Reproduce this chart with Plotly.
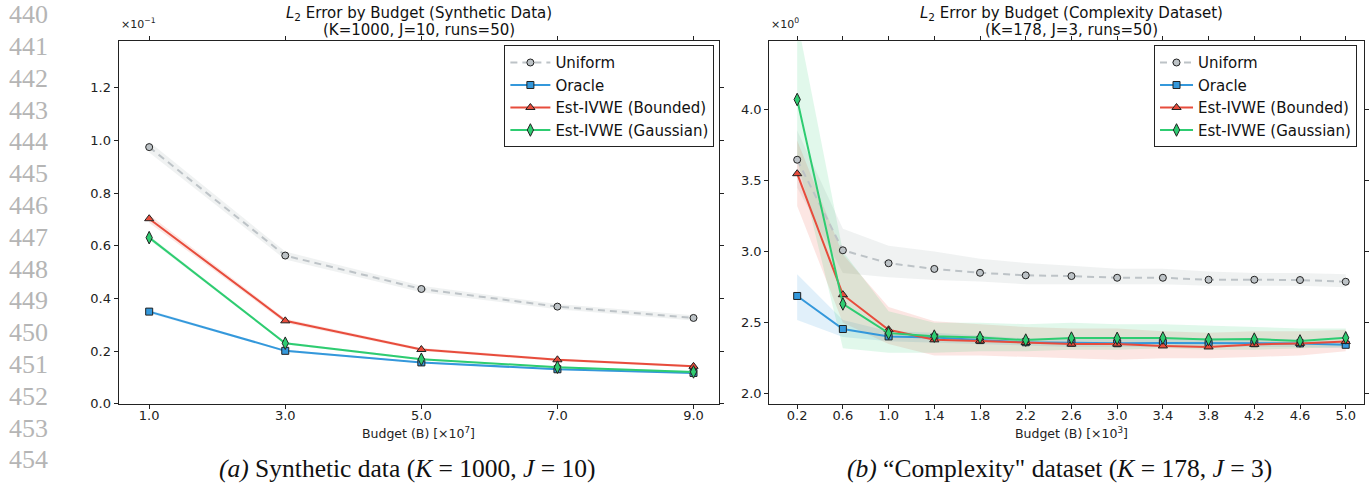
import plotly.graph_objects as go

W, H = 1369, 486

# ---------------- data: left panel (synthetic, values in x10^-1) ----------------
syn_budget = [1.0, 3.0, 5.0, 7.0, 9.0]
syn_uniform = [0.975, 0.563, 0.436, 0.369, 0.326]
syn_uniform_lo = [0.955, 0.548, 0.424, 0.359, 0.316]
syn_uniform_hi = [0.995, 0.578, 0.448, 0.379, 0.336]
syn_oracle = [0.350, 0.201, 0.157, 0.131, 0.117]
syn_oracle_lo = [0.344, 0.197, 0.154, 0.128, 0.114]
syn_oracle_hi = [0.356, 0.205, 0.160, 0.134, 0.120]
syn_bounded = [0.703, 0.315, 0.206, 0.167, 0.142]
syn_bounded_lo = [0.688, 0.307, 0.200, 0.162, 0.138]
syn_bounded_hi = [0.718, 0.323, 0.212, 0.172, 0.146]
syn_gauss = [0.631, 0.230, 0.169, 0.139, 0.121]
syn_gauss_lo = [0.623, 0.225, 0.165, 0.136, 0.118]
syn_gauss_hi = [0.639, 0.235, 0.173, 0.142, 0.124]

# ---------------- data: right panel (complexity dataset, x10^0) ----------------
cx_budget = [0.2, 0.6, 1.0, 1.4, 1.8, 2.2, 2.6, 3.0, 3.4, 3.8, 4.2, 4.6, 5.0]
cx_uniform = [3.645, 3.009, 2.918, 2.878, 2.851, 2.833, 2.828, 2.816, 2.816, 2.802, 2.802, 2.800, 2.788]
cx_uniform_lo = [3.45, 2.85, 2.82, 2.80, 2.79, 2.77, 2.77, 2.77, 2.77, 2.76, 2.76, 2.76, 2.75]
cx_uniform_hi = [3.85, 3.16, 3.04, 3.00, 2.95, 2.92, 2.90, 2.88, 2.88, 2.86, 2.85, 2.85, 2.84]
cx_oracle = [2.688, 2.456, 2.404, 2.396, 2.378, 2.363, 2.360, 2.356, 2.358, 2.358, 2.356, 2.355, 2.345]
cx_oracle_lo = [2.52, 2.40, 2.37, 2.36, 2.35, 2.34, 2.33, 2.33, 2.33, 2.33, 2.33, 2.33, 2.32]
cx_oracle_hi = [2.84, 2.52, 2.44, 2.43, 2.41, 2.39, 2.39, 2.39, 2.39, 2.39, 2.39, 2.38, 2.37]
cx_bounded = [3.547, 2.697, 2.451, 2.380, 2.372, 2.361, 2.350, 2.350, 2.337, 2.330, 2.348, 2.355, 2.368]
cx_bounded_lo = [3.32, 2.50, 2.35, 2.27, 2.27, 2.26, 2.25, 2.24, 2.25, 2.25, 2.26, 2.27, 2.30]
cx_bounded_hi = [3.78, 2.98, 2.61, 2.51, 2.49, 2.47, 2.46, 2.46, 2.44, 2.43, 2.44, 2.44, 2.45]
cx_gauss = [4.068, 2.632, 2.427, 2.406, 2.396, 2.378, 2.392, 2.390, 2.393, 2.383, 2.385, 2.372, 2.394]
cx_gauss_lo = [3.65, 2.32, 2.29, 2.29, 2.30, 2.30, 2.31, 2.31, 2.32, 2.31, 2.31, 2.32, 2.33]
cx_gauss_hi = [4.63, 3.00, 2.58, 2.50, 2.50, 2.49, 2.50, 2.49, 2.49, 2.48, 2.47, 2.46, 2.46]

syn_xticks = ["1.0", "3.0", "5.0", "7.0", "9.0"]
cx_xticks = ["0.2", "0.6", "1.0", "1.4", "1.8", "2.2", "2.6", "3.0", "3.4", "3.8", "4.2", "4.6", "5.0"]
series_names = ["Uniform", "Oracle", "Est-IVWE (Bounded)", "Est-IVWE (Gaussian)"]
line_numbers = list(range(440, 455))

# ---------------- styles ----------------
C_GREY, C_BLUE, C_RED, C_GREEN = "#bdc3c7", "#3498db", "#e74c3c", "#2ecc71"
BAND = {
    "Uniform": "rgba(149,165,166,0.14)",
    "Oracle": "rgba(52,152,219,0.15)",
    "Est-IVWE (Bounded)": "rgba(231,76,60,0.14)",
    "Est-IVWE (Gaussian)": "rgba(46,204,113,0.14)",
}
STYLE = {
    "Uniform": dict(color=C_GREY, symbol="circle", size=7, dash="7px,5px"),
    "Oracle": dict(color=C_BLUE, symbol="square", size=7, dash="solid"),
    "Est-IVWE (Bounded)": dict(color=C_RED, symbol="triangle-up", size=8, dash="solid"),
    "Est-IVWE (Gaussian)": dict(color=C_GREEN, symbol="diamond-tall", size=9, dash="solid"),
}

def px_x(p):
    return p / W

def px_y(p):
    return 1 - p / H

# plot area geometry in pixels
TOP, BOT = 42, 410.5
L1, R1 = 119, 722
L2, R2 = 772, 1369

fig = go.Figure()

panels = [
    ("x", "y", "legend", syn_budget,
     [(syn_uniform, syn_uniform_lo, syn_uniform_hi), (syn_oracle, syn_oracle_lo, syn_oracle_hi),
      (syn_bounded, syn_bounded_lo, syn_bounded_hi), (syn_gauss, syn_gauss_lo, syn_gauss_hi)]),
    ("x2", "y2", "legend2", cx_budget,
     [(cx_uniform, cx_uniform_lo, cx_uniform_hi), (cx_oracle, cx_oracle_lo, cx_oracle_hi),
      (cx_bounded, cx_bounded_lo, cx_bounded_hi), (cx_gauss, cx_gauss_lo, cx_gauss_hi)]),
]

for xa, ya, lg, xs, series in panels:
    for name, (mid, lo, hi) in zip(series_names, series):
        fig.add_trace(go.Scatter(x=xs, y=hi, xaxis=xa, yaxis=ya, mode="lines",
                                 line=dict(width=0, color=BAND[name]), showlegend=False,
                                 hoverinfo="skip"))
        fig.add_trace(go.Scatter(x=xs, y=lo, xaxis=xa, yaxis=ya, mode="lines",
                                 line=dict(width=0, color=BAND[name]), fill="tonexty",
                                 fillcolor=BAND[name], showlegend=False, hoverinfo="skip"))
    for name, (mid, lo, hi) in zip(series_names, series):
        st = STYLE[name]
        fig.add_trace(go.Scatter(
            x=xs, y=mid, xaxis=xa, yaxis=ya, mode="lines+markers", name=name, legend=lg,
            line=dict(color=st["color"], width=2, dash=st["dash"]),
            marker=dict(symbol=st["symbol"], size=st["size"], color=st["color"],
                        line=dict(color="#222222", width=1)),
        ))

axis_common = dict(showline=True, linecolor="#222222", linewidth=1, mirror="ticks",
                   ticks="outside", ticklen=4, tickwidth=1, tickcolor="#222222",
                   showgrid=False, zeroline=False,
                   tickfont=dict(family="DejaVu Sans", size=13, color="#222222"))

legend_common = dict(yanchor="top", bgcolor="white", bordercolor="#222222", borderwidth=1,
                     font=dict(family="DejaVu Sans", size=15, color="#111111"),
                     tracegroupgap=0, traceorder="normal")

fig.update_layout(
    width=W, height=H, autosize=False,
    margin=dict(l=0, r=0, t=0, b=0),
    paper_bgcolor="white", plot_bgcolor="white",
    xaxis=dict(domain=[px_x(L1), px_x(R1)], range=[0.55, 9.38], tickvals=syn_budget,
               ticktext=syn_xticks, anchor="y", ticklabelstandoff=-4, **axis_common),
    yaxis=dict(domain=[px_y(BOT), px_y(TOP)], range=[0, 1.377], tickvals=[0, 0.2, 0.4, 0.6, 0.8, 1.0, 1.2],
               tickformat=".1f", anchor="x", **axis_common),
    xaxis2=dict(domain=[px_x(L2), px_x(R2)], range=[-0.045, 5.16], tickvals=cx_budget,
                ticktext=cx_xticks, anchor="y2", ticklabelstandoff=-4, **axis_common),
    yaxis2=dict(domain=[px_y(BOT), px_y(TOP)], range=[1.931, 4.477], tickvals=[2.0, 2.5, 3.0, 3.5, 4.0],
                tickformat=".1f", anchor="x2", **axis_common),
    legend=dict(x=px_x(717), xanchor="right", y=px_y(46), itemwidth=40, **legend_common),
    legend2=dict(x=px_x(1362), xanchor="right", y=px_y(46), itemwidth=33, **legend_common),
)

def note(xp, yp, text, size, family="DejaVu Sans", color="#111111", xanchor="center"):
    return dict(x=px_x(xp), y=px_y(yp), xref="paper", yref="paper", text=text, showarrow=False,
                xanchor=xanchor, yanchor="middle", font=dict(family=family, size=size, color=color))

ann = []
for cx, l1, l2 in [((L1 + R1) / 2, "<i>L</i><sub>2</sub> Error by Budget (Synthetic Data)", "(K=1000, J=10, runs=50)"),
                   (1075, "<i>L</i><sub>2</sub> Error by Budget (Complexity Dataset)", "(K=178, J=3, runs=50)")]:
    ann.append(note(cx, 13.5, l1, 15))
    ann.append(note(cx, 31, l2, 15))
ann.append(note(L1, 24, "×10<sup>−1</sup>", 11, color="#222222", xanchor="left"))
ann.append(note(L2, 24, "×10<sup>0</sup>", 11, color="#222222", xanchor="left"))
ann.append(note((L1 + R1) / 2, 440, "Budget (B) [×10<sup>7</sup>]", 12.5, color="#222222"))
ann.append(note(1075, 440, "Budget (B) [×10<sup>3</sup>]", 12.5, color="#222222"))
ann.append(note(409, 476.5, "<i>(a)</i> Synthetic data (<i>K</i> = 1000, <i>J</i> = 10)", 25.5,
                family="Liberation Serif"))
ann.append(note(1063, 476.5, "<i>(b)</i> “Complexity\" dataset (<i>K</i> = 178, <i>J</i> = 3)", 25.5,
                family="Liberation Serif"))
for i, n in enumerate(line_numbers):
    ann.append(note(7, 15 + 32.33 * i, str(n), 26, family="Liberation Serif", color="#b5b5b5",
                    xanchor="left"))

fig.update_layout(annotations=ann)
# remove the browser's default 8px page margin so the figure fills the window exactly
fig.write_html("out.html", config={"displayModeBar": False},
               post_script="document.body.style.margin='0px';document.documentElement.style.overflow='hidden';")
